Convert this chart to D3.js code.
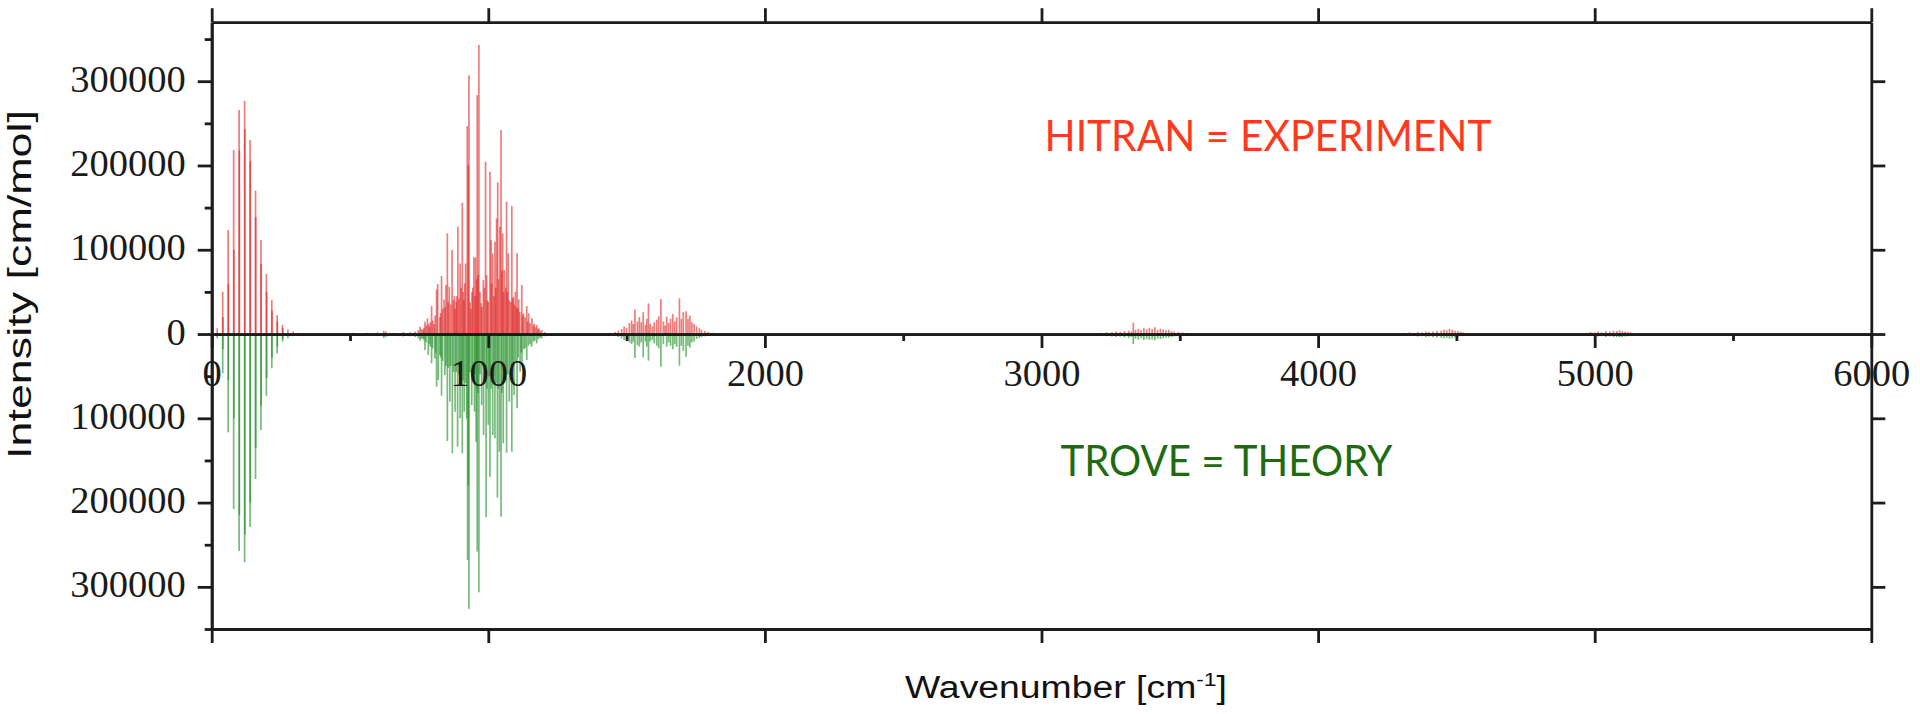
<!DOCTYPE html>
<html>
<head>
<meta charset="utf-8">
<script src="https://cdn.jsdelivr.net/npm/d3@7"></script>
<style>
  html, body { margin: 0; padding: 0; background: #ffffff; }
  svg { display: block; }
</style>
</head>
<body>
<svg id="chart" width="1920" height="714"></svg>
<script>
// ---- Axis ticks ----------------------------------------------------------
const xMajorTicks = [0, 1000, 2000, 3000, 4000, 5000, 6000];
const xMinorTicks = [500, 1500, 2500, 3500, 4500, 5500];
const yMajorTicks = [-300000, -200000, -100000, 0, 100000, 200000, 300000];
const yMinorTicks = [-350000, -250000, -150000, -50000, 50000, 150000, 250000, 350000];

// ---- Line lists: [wavenumber cm-1, intensity cm/mol] ----------------------
// pure rotational band
const hitranRot = [
  [19.9, 6800], [39.7, 50200], [40.5, 20000], [59.6, 123400], [60.4, 59300],
  [79.4, 218300], [80.2, 100000], [99.2, 265700], [100.0, 217600],
  [119.0, 276800], [119.8, 243000], [138.7, 230100], [139.5, 205000],
  [158.4, 170000], [159.2, 138500], [178.1, 111500], [178.9, 83100],
  [197.7, 71200], [198.5, 50000], [217.2, 40300], [218.0, 28000],
  [236.7, 22500], [237.5, 15000], [256.1, 10700], [256.9, 7000],
  [275.5, 5500], [294.8, 3000], [314.0, 1500]
];
const troveRot = [
  [19.9, 5100], [39.7, 46600], [40.5, 18000], [59.6, 116600], [60.4, 55000],
  [79.4, 207600], [80.2, 100000], [99.2, 257400], [100.0, 215000],
  [119.0, 270800], [119.8, 237800], [138.7, 228900], [139.5, 200000],
  [158.4, 172000], [159.2, 135000], [178.1, 113900], [178.9, 85000],
  [197.7, 73200], [198.5, 52000], [217.2, 40700], [218.0, 28000],
  [236.7, 22900], [237.5, 15000], [256.1, 9100], [256.9, 6000],
  [275.5, 5100], [294.8, 2500]
];

// weak lines between the rotational and umbrella bands
const hitranGap = [[511, 1500], [562, 1500], [600, 2000], [622, 4000], [630, 3000], [660, 1500], [693, 2500]];
const troveGap  = [[511, 1200], [562, 1500], [600, 2000], [622, 5000], [630, 3500], [660, 1500], [693, 3000]];

// umbrella (nu2) band
const hitranNu2 = [
  [717, 2000], [735, 3000], [747, 4700], [753, 8700], [758, 6000], [763, 5000],
  [767, 7000], [771, 14600], [775, 10000], [780, 18600], [784, 12000], [787, 9000],
  [791, 14000], [795, 33200], [799, 16000], [804, 12000], [808, 22000], [813, 53000],
  [817, 59300], [825, 20000], [828, 25000], [831, 68800], [835, 30000], [840, 41100],
  [844, 32000], [847, 58100], [852, 119400], [855, 38000], [859, 56100], [864, 35000],
  [869, 99600], [874, 40000], [877, 45000], [880, 30000], [884, 38000], [886, 45000],
  [890, 127300], [894, 42000], [898, 83800], [902, 55000], [906, 155800], [909, 50000],
  [912, 40000], [915, 60000], [918, 83800], [924, 246700], [928, 200000], [930, 307200],
  [934, 38000], [937, 30000], [941, 50000], [944, 55000], [948, 91000], [952, 45000],
  [954, 91000], [958, 65000], [960, 283500], [963, 70000], [966, 342800], [970, 50000],
  [974, 36400], [977, 32000], [982, 64100], [986, 55000], [990, 204400], [994, 70000],
  [997, 40000], [1000, 38000], [1006, 192500], [1010, 111500], [1012, 60000],
  [1016, 95700], [1020, 45000], [1024, 109500], [1027, 55000], [1030, 137200],
  [1034, 179900], [1037, 65000], [1042, 127300], [1046, 242000], [1049, 75000],
  [1052, 119400], [1055, 50000], [1058, 75900], [1063, 55000], [1066, 157000],
  [1069, 50000], [1072, 95700], [1076, 40000], [1081, 38000], [1085, 151800],
  [1088, 42000], [1091, 44300], [1094, 35000], [1098, 50200], [1101, 32000],
  [1104, 95700], [1107, 30000], [1110, 41100], [1114, 26000], [1121, 58100],
  [1124, 22000], [1127, 24500], [1133, 20000], [1139, 33200], [1142, 15000],
  [1146, 24500], [1151, 13000], [1158, 18600], [1163, 10000], [1166, 12000],
  [1171, 8000], [1175, 10700], [1179, 6000], [1183, 7000], [1187, 4000],
  [1193, 4700], [1205, 2500]
];
const troveNu2 = [
  [717, 2500], [735, 3500], [747, 5000], [753, 8000], [758, 6000], [763, 5000],
  [767, 7000], [771, 19000], [775, 10000], [783, 24900], [787, 12000], [791, 15000],
  [795, 34800], [799, 17000], [807, 28900], [810, 22000], [813, 62500], [819, 54600],
  [825, 25000], [828, 28000], [831, 73200], [835, 32000], [843, 48600], [847, 38000],
  [852, 126900], [855, 40000], [861, 80300], [864, 38000], [870, 141500], [874, 45000],
  [880, 92100], [884, 45000], [889, 133700], [894, 48000], [898, 100000], [902, 55000],
  [906, 141500], [909, 55000], [913, 92100], [918, 58000], [922, 100000], [925, 268100],
  [928, 180000], [930, 326200], [934, 45000], [940, 84200], [944, 50000], [950, 92100],
  [952, 48000], [956, 127700], [958, 65000], [960, 258200], [963, 70000], [966, 306400],
  [970, 48000], [976, 84200], [979, 38000], [983, 119800], [986, 58000], [992, 217500],
  [995, 65000], [1000, 107900], [1003, 50000], [1006, 169200], [1010, 65000],
  [1016, 119800], [1020, 50000], [1024, 123800], [1028, 58000], [1033, 194100],
  [1036, 65000], [1040, 139600], [1046, 216700], [1049, 70000], [1054, 129700],
  [1058, 50000], [1063, 55000], [1066, 140800], [1070, 48000], [1076, 80300],
  [1080, 38000], [1085, 139600], [1088, 38000], [1093, 72400], [1098, 32000],
  [1104, 88200], [1108, 28000], [1115, 44700], [1119, 22000], [1122, 32800],
  [1128, 18000], [1133, 17000], [1139, 30800], [1145, 14000], [1151, 12000],
  [1157, 15000], [1163, 9000], [1168, 8000], [1175, 11100], [1181, 6000],
  [1187, 4500], [1193, 5100], [1205, 2500]
];

// bending (nu4) band
const hitranNu4 = [
  [1440, 1500], [1458, 2500], [1470, 4000], [1482, 6000], [1491, 9000], [1500, 7000],
  [1510, 13000], [1518, 16000], [1524, 12000], [1530, 29200], [1539, 15000],
  [1546, 20000], [1553, 14000], [1560, 26000], [1568, 11000], [1573, 18000],
  [1579, 36400], [1585, 12000], [1593, 9000], [1600, 14000], [1609, 17000],
  [1616, 21000], [1624, 41500], [1633, 15000], [1639, 10000], [1645, 20600],
  [1652, 13000], [1659, 18000], [1667, 24000], [1674, 15000], [1681, 20000],
  [1691, 42300], [1698, 18000], [1705, 26000], [1715, 27000], [1722, 18000],
  [1729, 22000], [1736, 14000], [1744, 12000], [1753, 9000], [1763, 7000],
  [1771, 5000], [1783, 3500], [1795, 2500], [1811, 1500]
];
const troveNu4 = [
  [1458, 2000], [1470, 3500], [1482, 5000], [1491, 7000], [1500, 6000], [1510, 10000],
  [1518, 12000], [1524, 9000], [1530, 28500], [1539, 13000], [1546, 15000],
  [1553, 10000], [1560, 27700], [1568, 9000], [1573, 15000], [1579, 31600],
  [1585, 9000], [1593, 7000], [1600, 11000], [1609, 14000], [1616, 17000],
  [1624, 38700], [1633, 12000], [1645, 15000], [1652, 10000], [1659, 14000],
  [1667, 18000], [1674, 12000], [1681, 15000], [1691, 37500], [1698, 14000],
  [1705, 20000], [1715, 27000], [1722, 14000], [1729, 16000], [1736, 10000],
  [1744, 9000], [1753, 6000], [1763, 5000], [1771, 3500], [1783, 2500]
];

// stretching (nu1/nu3) band
const hitranStr = [
  [3215, 1500], [3235, 2000], [3255, 2500], [3270, 3000], [3285, 2500], [3300, 3500],
  [3315, 4000], [3325, 3000], [3332, 13400], [3340, 5000], [3350, 6000], [3360, 4500],
  [3370, 7000], [3380, 5500], [3390, 7500], [3400, 6000], [3410, 8000], [3420, 5000],
  [3430, 6500], [3440, 5500], [3450, 4500], [3460, 5000], [3470, 3500], [3480, 3000],
  [3495, 2500], [3510, 2000], [3525, 1500]
];
const troveStr = [
  [3215, 1500], [3235, 2500], [3255, 3000], [3270, 3500], [3285, 3000], [3300, 4000],
  [3315, 4500], [3325, 3500], [3332, 11900], [3340, 5500], [3350, 6500], [3360, 5000],
  [3370, 7000], [3380, 6000], [3390, 7000], [3400, 6500], [3410, 7500], [3420, 5500],
  [3430, 6000], [3440, 5000], [3450, 4500], [3460, 4500], [3470, 3500], [3480, 3000],
  [3495, 2500], [3510, 2000], [3525, 1500]
];

// combination bands near 4400 and 5000
const hitranComb1 = [
  [4290, 1000], [4310, 1500], [4330, 2000], [4345, 1500], [4360, 2500], [4375, 2000],
  [4390, 3000], [4400, 2500], [4415, 3000], [4430, 3500], [4445, 4000], [4455, 5500],
  [4465, 4500], [4475, 6000], [4485, 5000], [4495, 4000], [4505, 3500], [4515, 3000],
  [4525, 2000], [4540, 1000]
];
const troveComb1 = [
  [4290, 1000], [4310, 1500], [4330, 2500], [4345, 2000], [4360, 3000], [4375, 2500],
  [4390, 3500], [4400, 3000], [4415, 3500], [4430, 4000], [4445, 4500], [4455, 5000],
  [4465, 4500], [4475, 5500], [4485, 5000], [4495, 4000], [4505, 3500], [4515, 2500],
  [4525, 2000], [4540, 1000]
];
const hitranComb2 = [
  [4955, 1000], [4970, 1500], [4985, 2500], [5000, 2000], [5012, 3000], [5025, 2000],
  [5040, 3500], [5055, 3000], [5068, 4000], [5080, 3500], [5090, 4500], [5100, 3500],
  [5110, 3000], [5120, 2500], [5130, 2000], [5145, 1000]
];
const troveComb2 = [
  [4955, 1000], [4970, 2000], [4985, 2500], [5000, 2500], [5012, 3000], [5025, 2500],
  [5040, 3500], [5055, 3000], [5068, 3500], [5080, 3500], [5090, 4000], [5100, 3500],
  [5110, 3000], [5120, 2500], [5130, 2000], [5145, 1000]
];

const hitranLines = [].concat(hitranRot, hitranGap, hitranNu2, hitranNu4, hitranStr, hitranComb1, hitranComb2);
const troveLines  = [].concat(troveRot, troveGap, troveNu2, troveNu4, troveStr, troveComb1, troveComb2);

// ---- Scales -------------------------------------------------------------
const svg = d3.select('#chart');
const x = d3.scaleLinear().domain([0, 6000]).range([211.7, 1871.3]);
const y = d3.scaleLinear().domain([-350000, 370000]).range([629, 22.2]);

// ---- Stick spectra: experiment up, theory mirrored down ------------------
svg.append('g')
  .selectAll('line')
  .data(hitranLines)
  .join('line')
  .attr('x1', d => x(d[0])).attr('x2', d => x(d[0]))
  .attr('y1', y(0)).attr('y2', d => y(d[1]))
  .attr('stroke', '#df1f1f')
  .attr('stroke-opacity', 0.58)
  .attr('stroke-width', 1.7);

svg.append('g')
  .selectAll('line')
  .data(troveLines)
  .join('line')
  .attr('x1', d => x(d[0])).attr('x2', d => x(d[0]))
  .attr('y1', y(0)).attr('y2', d => y(-d[1]))
  .attr('stroke', '#23902a')
  .attr('stroke-opacity', 0.62)
  .attr('stroke-width', 1.7);

// ---- Axes ---------------------------------------------------------------
const axisColor = '#1c1c1c';
const axisWidth = 2.8;
const tickFont = "'Liberation Serif', 'Times New Roman', serif";

function styleAxis(g) {
  g.selectAll('.domain').attr('stroke', axisColor).attr('stroke-width', axisWidth);
  g.selectAll('.tick line').attr('stroke', axisColor).attr('stroke-width', axisWidth);
  g.selectAll('.tick text')
    .attr('fill', '#1a1a1a')
    .style('font-family', tickFont)
    .style('font-size', '38.5px');
}

// frame: top and bottom
svg.append('g')
  .attr('transform', `translate(0,${y(370000)})`)
  .call(d3.axisTop(x).tickValues(xMajorTicks).tickSize(14).tickSizeOuter(0).tickFormat(''))
  .call(styleAxis);
svg.append('g')
  .attr('transform', `translate(0,${y(-350000)})`)
  .call(d3.axisBottom(x).tickValues(xMajorTicks).tickSize(14).tickSizeOuter(0).tickFormat(''))
  .call(styleAxis);

// frame: right
svg.append('g')
  .attr('transform', `translate(${x(6000)},0)`)
  .call(d3.axisRight(y).tickValues(yMajorTicks).tickSize(14).tickSizeOuter(0).tickFormat(''))
  .call(styleAxis);

// left axis with minor ticks
svg.append('g')
  .attr('transform', `translate(${x(0)},0)`)
  .call(d3.axisLeft(y).tickValues(yMinorTicks).tickSize(7).tickSizeOuter(0).tickFormat(''))
  .call(styleAxis);
const leftAxis = svg.append('g')
  .attr('transform', `translate(${x(0)},0)`)
  .call(d3.axisLeft(y).tickValues(yMajorTicks).tickSize(14).tickSizeOuter(0).tickPadding(12)
    .tickFormat(d => String(Math.abs(d))))
  .call(styleAxis);
leftAxis.selectAll('.tick text').attr('dy', '0.26em');

// zero line carrying the wavenumber scale
svg.append('g')
  .attr('transform', `translate(0,${y(0)})`)
  .call(d3.axisBottom(x).tickValues(xMinorTicks).tickSize(7).tickSizeOuter(0).tickFormat(''))
  .call(styleAxis);
svg.append('g')
  .attr('transform', `translate(0,${y(0)})`)
  .call(d3.axisBottom(x).tickValues(xMajorTicks).tickSize(14).tickSizeOuter(0).tickPadding(11)
    .tickFormat(d => String(d)))
  .call(styleAxis);

// ---- Axis titles ---------------------------------------------------------
const sans = "'Liberation Sans', Arial, sans-serif";

svg.append('text')
  .attr('transform', 'translate(31,284.5) rotate(-90)')
  .attr('text-anchor', 'middle')
  .attr('textLength', 349)
  .attr('lengthAdjust', 'spacingAndGlyphs')
  .style('font-family', sans)
  .style('font-size', '34px')
  .attr('fill', '#111')
  .text('Intensity [cm/mol]');

const xTitle = svg.append('text')
  .attr('x', 905)
  .attr('y', 698)
  .attr('textLength', 322)
  .attr('lengthAdjust', 'spacingAndGlyphs')
  .style('font-family', sans)
  .style('font-size', '31px')
  .attr('fill', '#111');
xTitle.append('tspan').text('Wavenumber [cm');
xTitle.append('tspan').attr('dy', -12).style('font-size', '19px').text('-1');
xTitle.append('tspan').attr('dy', 12).text(']');

// ---- Series annotations --------------------------------------------------
const annoFont = "Lato, 'Open Sans', sans-serif";
svg.append('text')
  .attr('x', 1044.5).attr('y', 150.6)
  .attr('textLength', 447)
  .attr('lengthAdjust', 'spacingAndGlyphs')
  .style('font-family', annoFont)
  .style('font-size', '43px')
  .attr('fill', '#ff3a1c')
  .text('HITRAN = EXPERIMENT');

svg.append('text')
  .attr('x', 1060.4).attr('y', 476.3)
  .attr('textLength', 332)
  .attr('lengthAdjust', 'spacingAndGlyphs')
  .style('font-family', annoFont)
  .style('font-size', '43px')
  .attr('fill', '#1e6b10')
  .text('TROVE = THEORY');
</script>
</body>
</html>
